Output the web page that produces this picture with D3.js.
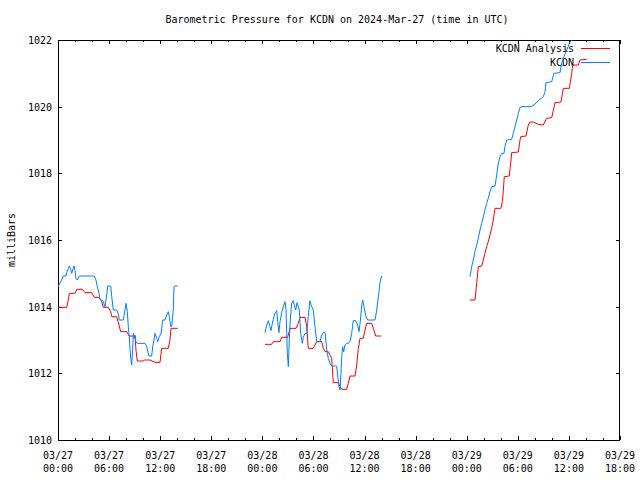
<!DOCTYPE html>
<html>
<head>
<meta charset="utf-8">
<script src="https://cdn.jsdelivr.net/npm/d3@7"></script>
<style>
  html, body { margin: 0; padding: 0; background: #fff; }
  svg { display: block; }
  text { font-family: "DejaVu Sans Mono", "Liberation Mono", monospace; font-size: 10px; fill: #000; }
</style>
</head>
<body>
<svg id="chart" width="640" height="480"></svg>
<script>
// ---- Data (hours after 2024-03-27 00:00 UTC, pressure in mb) ----
const title = "Barometric Pressure for KCDN on 2024-Mar-27 (time in UTC)";
const yLabel = "milliBars";
const seriesNames = ["KCDN Analysis", "KCDN"];
const seriesColors = ["#ff0000", "#0080ff"];
const yTicks = [1010, 1012, 1014, 1016, 1018, 1020, 1022];
const xTickHours = [0, 6, 12, 18, 24, 30, 36, 42, 48, 54, 60, 66];
const xTickDates = ["03/27","03/27","03/27","03/27","03/28","03/28","03/28","03/28","03/29","03/29","03/29","03/29"];
const xTickTimes = ["00:00","06:00","12:00","18:00","00:00","06:00","12:00","18:00","00:00","06:00","12:00","18:00"];

const analysisSeg1 = [[0,1013.98],[1.02,1013.98],[1.21,1014.20],[1.33,1014.40],[2.00,1014.40],[2.20,1014.52],[2.85,1014.52],[3.17,1014.42],[3.96,1014.42],[4.26,1014.28],[4.85,1014.28],[5.13,1014.15],[5.32,1013.98],[5.91,1013.98],[6.19,1013.85],[6.31,1013.70],[6.89,1013.70],[7.16,1013.45],[7.36,1013.25],[8.07,1013.25],[8.34,1013.12],[9.04,1013.12],[9.16,1012.70],[9.31,1012.37],[10.02,1012.37],[10.13,1012.40],[10.80,1012.40],[11.39,1012.33],[11.98,1012.33],[12.18,1012.75],[12.95,1012.75],[13.15,1013.00],[13.27,1013.35],[14.06,1013.35]];
const analysisSeg2 = [[24.31,1012.87],[25.09,1012.87],[25.28,1012.95],[26.07,1012.95],[26.27,1013.08],[26.97,1013.08],[27.25,1013.35],[27.95,1013.35],[28.22,1013.50],[28.42,1013.68],[29.01,1013.68],[29.21,1013.40],[29.39,1012.75],[29.98,1012.75],[30.18,1012.85],[30.38,1012.95],[30.97,1012.95],[31.16,1012.75],[31.36,1012.65],[31.74,1012.65],[32.14,1012.45],[32.21,1012.20],[32.33,1011.72],[32.92,1011.72],[33.12,1011.60],[33.32,1011.52],[33.90,1011.52],[34.09,1011.70],[34.29,1011.92],[34.88,1011.92],[35.08,1012.25],[35.27,1012.75],[35.47,1013.05],[35.85,1013.05],[36.05,1013.30],[36.25,1013.50],[36.84,1013.50],[37.03,1013.35],[37.31,1013.12],[37.93,1013.12]];
const analysisSeg3 = [[48.38,1014.20],[48.97,1014.20],[49.17,1014.70],[49.36,1015.20],[49.76,1015.22],[49.95,1015.40],[50.14,1015.60],[50.34,1015.80],[50.53,1015.95],[50.73,1016.15],[50.93,1016.35],[51.12,1016.60],[51.32,1016.95],[52.02,1016.95],[52.18,1017.15],[52.29,1017.45],[52.41,1017.90],[53.00,1017.92],[53.16,1018.30],[53.28,1018.62],[54.06,1018.64],[54.26,1019.00],[54.34,1019.10],[54.96,1019.12],[55.23,1019.45],[55.43,1019.54],[55.82,1019.54],[56.41,1019.47],[56.99,1019.45],[57.39,1019.65],[57.98,1019.67],[58.37,1020.12],[59.07,1020.14],[59.34,1020.55],[60.05,1020.55],[60.33,1021.00],[60.44,1021.25],[61.10,1021.25],[61.30,1021.40],[62.09,1021.42]];

const stationSeg1 = [[0,1014.60],[0.43,1014.80],[0.62,1014.92],[0.94,1014.92],[1.02,1015.02],[1.21,1015.15],[1.33,1015.22],[1.49,1015.12],[1.61,1015.00],[1.73,1015.10],[1.88,1015.22],[2.00,1015.08],[2.11,1014.85],[2.27,1014.80],[2.50,1014.92],[2.70,1014.92],[4.26,1014.92],[4.46,1014.80],[4.62,1014.60],[4.81,1014.40],[4.93,1014.22],[5.13,1014.20],[5.32,1014.15],[5.52,1014.00],[5.72,1014.35],[5.84,1014.62],[6.19,1014.62],[6.31,1014.30],[6.49,1013.90],[6.89,1013.90],[7.08,1013.78],[7.20,1013.60],[7.67,1013.60],[7.87,1013.90],[7.99,1014.10],[8.14,1013.85],[8.26,1013.40],[8.37,1013.10],[8.46,1012.70],[8.57,1012.40],[8.65,1012.25],[8.77,1012.70],[8.84,1013.20],[8.96,1013.05],[9.04,1013.15],[9.16,1012.95],[9.31,1012.90],[10.22,1012.90],[10.42,1012.80],[10.60,1012.60],[10.69,1012.52],[11.00,1012.52],[11.12,1012.80],[11.27,1013.00],[11.39,1013.20],[11.59,1013.05],[11.71,1012.95],[11.90,1013.10],[12.10,1013.20],[12.30,1013.60],[12.57,1013.60],[12.77,1013.75],[12.95,1013.85],[13.07,1013.70],[13.24,1013.40],[13.35,1013.40],[13.54,1013.90],[13.62,1014.60],[13.74,1014.62],[14.06,1014.62]];
const stationSeg2 = [[24.31,1013.22],[24.51,1013.45],[24.70,1013.58],[24.90,1013.40],[25.01,1013.28],[25.17,1013.50],[25.28,1013.62],[25.48,1013.80],[25.68,1013.88],[25.80,1013.55],[25.95,1013.22],[26.07,1013.55],[26.27,1013.82],[26.46,1014.00],[26.66,1014.15],[26.78,1013.90],[26.93,1012.60],[27.05,1012.20],[27.16,1013.00],[27.28,1013.60],[27.44,1014.10],[27.63,1014.18],[27.75,1014.05],[27.91,1013.90],[28.07,1014.12],[28.22,1014.00],[28.34,1013.90],[28.50,1013.20],[28.69,1012.90],[28.81,1013.08],[29.01,1013.20],[29.21,1013.20],[29.39,1013.70],[29.59,1014.18],[29.79,1014.00],[29.98,1013.90],[30.18,1013.40],[30.38,1012.95],[30.77,1012.95],[30.97,1013.15],[31.16,1013.22],[31.36,1013.22],[31.56,1012.70],[31.74,1012.45],[31.94,1012.30],[32.14,1012.22],[32.73,1012.22],[32.85,1011.92],[33.00,1011.60],[33.12,1011.50],[33.23,1012.00],[33.32,1012.50],[33.43,1012.80],[33.55,1012.65],[33.70,1012.85],[33.90,1012.90],[34.09,1012.90],[34.29,1012.95],[34.49,1013.20],[34.68,1013.58],[34.96,1013.58],[35.20,1013.45],[35.35,1013.25],[35.50,1013.55],[35.67,1014.05],[35.79,1014.20],[35.97,1013.95],[36.17,1013.70],[36.37,1013.60],[37.23,1013.60],[37.43,1013.90],[37.55,1014.15],[37.70,1014.45],[37.81,1014.70],[37.93,1014.85],[38.01,1014.92]];
const stationSeg3 = [[48.38,1014.90],[48.58,1015.20],[48.77,1015.40],[48.97,1015.65],[49.17,1015.85],[49.36,1016.05],[49.56,1016.30],[49.76,1016.50],[49.95,1016.70],[50.14,1016.90],[50.34,1017.10],[50.53,1017.25],[50.73,1017.45],[50.93,1017.60],[51.32,1017.62],[51.52,1017.95],[51.71,1018.30],[51.91,1018.50],[52.11,1018.60],[52.38,1018.60],[52.49,1018.80],[52.69,1019.00],[53.28,1019.02],[53.47,1019.20],[53.67,1019.40],[53.87,1019.60],[54.06,1019.80],[54.26,1019.98],[54.46,1020.00],[55.63,1020.00],[56.02,1020.08],[56.41,1020.18],[57.00,1020.30],[57.19,1020.45],[57.31,1020.72],[57.98,1020.75],[58.25,1021.00],[58.95,1021.02],[59.15,1021.30],[59.42,1021.50],[59.74,1021.70],[60.05,1021.90],[60.33,1022.00],[60.60,1022.12]];

const analysisSegments = [analysisSeg1, analysisSeg2, analysisSeg3];
const stationSegments = [stationSeg1, stationSeg2, stationSeg3];

// ---- Layout ----
const svg = d3.select("#chart");
const L = 58, R = 620, T = 40, B = 440;
const x = d3.scaleLinear().domain([0, 66]).range([L, R]);
const y = d3.scaleLinear().domain([1010, 1022]).range([B, T]);

svg.append("defs").append("clipPath").attr("id", "plotclip")
  .append("rect").attr("x", L).attr("y", T).attr("width", R - L).attr("height", B - T);

// Title
svg.append("text").attr("x", 337).attr("y", 23).attr("text-anchor", "middle").text(title);

// Y label
svg.append("text").attr("transform", "translate(15,240) rotate(-90)").attr("text-anchor", "middle").text(yLabel);

const minorHours = d3.range(0, 67, 2).filter(h => h % 6 !== 0);

// Axes (ticks pointing inward, mirrored)
const axisStyle = g => {
  g.select(".domain").remove();
  g.selectAll("line").attr("stroke", "#000").attr("shape-rendering", "crispEdges");
};
svg.append("g").attr("transform", `translate(0,${B})`)
  .call(d3.axisBottom(x).tickValues(xTickHours).tickSize(-4).tickFormat("")).call(axisStyle);
svg.append("g").attr("transform", `translate(0,${B})`)
  .call(d3.axisBottom(x).tickValues(minorHours).tickSize(-2).tickFormat("")).call(axisStyle);
svg.append("g").attr("transform", `translate(0,${T})`)
  .call(d3.axisTop(x).tickValues(xTickHours).tickSize(-4).tickFormat("")).call(axisStyle);
svg.append("g").attr("transform", `translate(0,${T})`)
  .call(d3.axisTop(x).tickValues(minorHours).tickSize(-2).tickFormat("")).call(axisStyle);
const gL = svg.append("g").attr("transform", `translate(${L},0)`)
  .call(d3.axisLeft(y).tickValues(yTicks).tickSize(-4).tickFormat(d3.format("d")));
gL.call(axisStyle);
gL.selectAll("text").attr("x", -6).attr("dy", "0.35em")
  .style("font-family", '"DejaVu Sans Mono", monospace').style("font-size", "10px");
svg.append("g").attr("transform", `translate(${R},0)`)
  .call(d3.axisRight(y).tickValues(yTicks).tickSize(-4).tickFormat("")).call(axisStyle);

// x tick labels (two lines)
const xl = svg.append("g");
xTickHours.forEach((h, i) => {
  const t = xl.append("text").attr("x", x(h)).attr("y", 459).attr("text-anchor", "middle");
  t.append("tspan").attr("x", x(h)).text(xTickDates[i]);
  t.append("tspan").attr("x", x(h)).attr("dy", 13).text(xTickTimes[i]);
});

// Border
svg.append("rect").attr("x", L + 0.5).attr("y", T + 0.5).attr("width", R - L - 1).attr("height", B - T)
  .attr("fill", "none").attr("stroke", "#000").attr("shape-rendering", "crispEdges");

// Legend
const legend = svg.append("g");
seriesNames.forEach((name, i) => {
  const ly = 48 + i * 14;
  legend.append("text").attr("x", 574).attr("y", ly).attr("dy", "0.35em").attr("text-anchor", "end").text(name);
  legend.append("line").attr("x1", 581).attr("x2", 610).attr("y1", ly + 0.5).attr("y2", ly + 0.5)
    .attr("stroke", seriesColors[i]).attr("stroke-width", 1);
});

// Lines
const line = d3.line().x(d => x(d[0])).y(d => y(d[1]));
const plot = svg.append("g").attr("clip-path", "url(#plotclip)");
[analysisSegments, stationSegments].forEach((segs, i) => {
  segs.forEach(seg => {
    plot.append("path").datum(seg).attr("d", line)
      .attr("fill", "none").attr("stroke", seriesColors[i]).attr("stroke-width", 1);
  });
});
</script>
</body>
</html>
